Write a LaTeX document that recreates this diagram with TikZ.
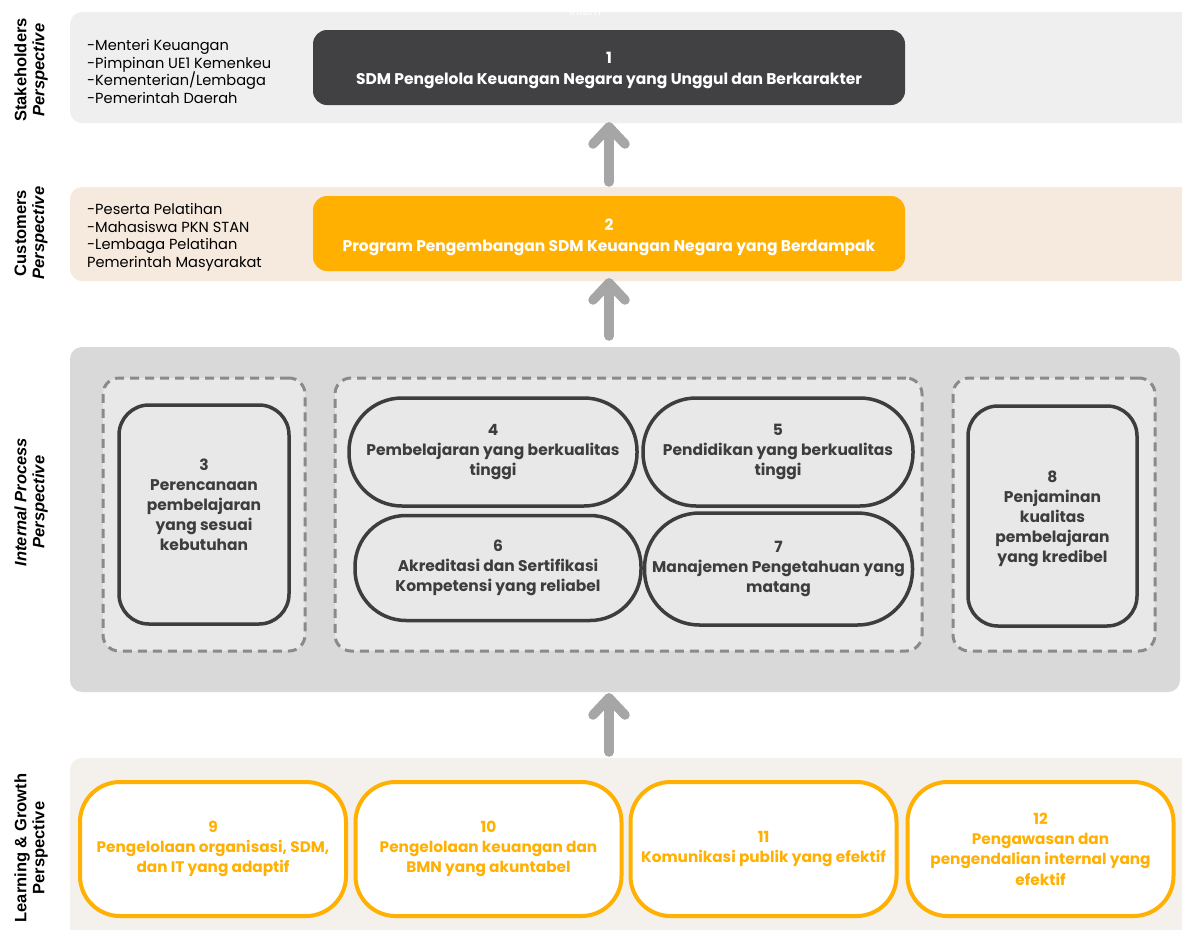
\documentclass[tikz,border=0pt]{standalone}
\usepackage{fontspec}
\setmainfont{Poppins}
\newfontfamily\labelfont{Liberation Sans}
\usetikzlibrary{calc}
\definecolor{darkbox}{HTML}{414042}
\definecolor{amber}{HTML}{FFB000}
\definecolor{bandA}{HTML}{EFEFEF}
\definecolor{bandB}{HTML}{F6E9DE}
\definecolor{bandC}{HTML}{D9D9D9}
\definecolor{bandD}{HTML}{F4F0EC}
\definecolor{grpfill}{HTML}{E8E8E8}
\definecolor{dashgray}{HTML}{8A8A8A}
\definecolor{arrgray}{HTML}{A6A6A6}
\definecolor{txtgray}{HTML}{3D3D3D}
\tikzset{
  band/.style={rounded corners=12pt, draw=none},
  bigbox/.style={rounded corners=14pt, minimum width=592pt, minimum height=75pt, inner sep=0pt},
  bigtext/.style={text=white, align=center,
    font=\bfseries\fontsize{15.5}{21}\selectfont, inner sep=0pt},
  grp/.style={draw=dashgray, dash pattern=on 9pt off 6pt, line width=3pt,
    fill=grpfill, rounded corners=16pt, minimum height=273pt, inner sep=0pt},
  ipbox/.style={draw=txtgray, line width=3.5pt, fill=grpfill, text=txtgray,
    align=center, font=\bfseries\fontsize{15.5}{20}\selectfont, inner sep=0pt},
  iptext/.style={text=txtgray, align=center,
    font=\bfseries\fontsize{15.5}{20}\selectfont, inner sep=0pt},
  lgbox/.style={draw=amber, line width=4pt, fill=white, text=amber,
    rounded corners=40pt, align=center,
    font=\bfseries\fontsize{15.3}{20.3}\selectfont,
    minimum width=266pt, minimum height=134pt, inner sep=0pt},
  listtxt/.style={anchor=north west, align=left, text=black,
    font=\fontsize{14.6}{17.7}\selectfont, inner sep=0pt},
  persp/.style={rotate=90, align=center, text=black,
    font=\labelfont\bfseries\fontsize{16.5}{18}\selectfont, inner sep=0pt},
  uparrow/.style={draw=arrgray, line width=9.5pt, line cap=round, line join=round},
}
\begin{document}
\begin{tikzpicture}[x=1pt, y=-1pt]
\useasboundingbox (0,0) rectangle (1182,929);
\clip (0,0) rectangle (1182,929);
\fill[white] (0,0) rectangle (1182,929);

% bands
\fill[bandA, band] (70,12) rectangle (1200,123);
\fill[bandB, band] (70,187) rectangle (1200,281);
\fill[bandC, band] (70,347) rectangle (1180,692);
\fill[bandD, band] (70,758) rectangle (1200,950);

\node[text=white, font=\fontsize{11}{12}\selectfont] (intern) at (585,11) {intern};

% perspective labels
\node[persp] (p1) at (31,70) {Stakeholders\\\itshape Perspective};
\node[persp] (p2) at (31,233) {Customers\\\itshape Perspective};
\node[persp] (p3) at (31,502) {\itshape Internal Process\\\itshape Perspective};
\node[persp] (p4) at (31,848) {Learning \& Growth\\Perspective};

% lists
\node[listtxt] (l1) at (87,39) {-Menteri Keuangan\\-Pimpinan UE1 Kemenkeu\\-Kementerian/Lembaga\\-Pemerintah Daerah};
\node[listtxt] (l2) at (87,203) {-Peserta Pelatihan\\-Mahasiswa PKN STAN\\-Lembaga Pelatihan\\Pemerintah Masyarakat};

% top boxes
\node[bigbox, fill=darkbox] (b1) at (609,67.5) {};
\node[bigtext] (t1) at (609,70.5) {1\\SDM Pengelola Keuangan Negara yang Unggul dan Berkarakter};
\node[bigbox, fill=amber] (b2) at (609,233.5) {};
\node[bigtext] (t2) at (609,237) {2\\Program Pengembangan SDM Keuangan Negara yang Berdampak};

% dashed groups
\node[grp, minimum width=202pt] (gA) at (204,514.5) {};
\node[grp, minimum width=587pt] (gB) at (628.5,514.5) {};
\node[grp, minimum width=202pt] (gC) at (1054,514.5) {};

% internal process boxes
\node[ipbox, rounded corners=30pt, minimum width=170pt, minimum height=219pt] (b3) at (204,514.5) {};
\node[iptext] (t3) at (204,505) {3\\Perencanaan\\pembelajaran\\yang sesuai\\kebutuhan};
\node[ipbox, rounded corners=30pt, minimum width=169pt, minimum height=220pt] (b8) at (1052.5,516) {};
\node[iptext] (t8) at (1052.5,519) {8\\Penjaminan\\kualitas\\pembelajaran\\yang kredibel};
\node[ipbox, rounded corners=53pt, minimum width=288pt, minimum height=108pt] (b4) at (493,452)
  {4\\Pembelajaran yang berkualitas\\tinggi};
\node[ipbox, rounded corners=53pt, minimum width=270pt, minimum height=108pt] (b5) at (778,452)
  {5\\Pendidikan yang berkualitas\\tinggi};
\node[ipbox, rounded corners=51pt, minimum width=286pt, minimum height=105pt] (b6) at (498,568)
  {6\\Akreditasi dan Sertifikasi\\Kompetensi yang reliabel};
\node[ipbox, rounded corners=55pt, minimum width=268pt, minimum height=112pt] (b7) at (778.5,569)
  {7\\Manajemen Pengetahuan yang\\matang};

% learning boxes
\node[lgbox] (b9) at (213,849) {9\\Pengelolaan organisasi, SDM,\\dan IT yang adaptif};
\node[lgbox] (b10) at (488.5,849) {10\\Pengelolaan keuangan dan\\BMN yang akuntabel};
\node[lgbox] (b11) at (763.5,849) {11\\Komunikasi publik yang efektif};
\node[lgbox] (b12) at (1040.5,849) {12\\Pengawasan dan\\pengendalian internal yang\\efektif};

% arrows
\coordinate (a1s) at (609,182);
\coordinate (a1t) at (609,127);
\coordinate (a2s) at (609,336);
\coordinate (a2t) at (609,283);
\coordinate (a3s) at (609,752);
\coordinate (a3t) at (609,698);
\foreach \s/\t in {a1s/a1t, a2s/a2t, a3s/a3t}{
  \draw[uparrow] (\s) -- (\t);
  \draw[uparrow] ($(\t)+(-16,17)$) -- (\t) -- ($(\t)+(16,17)$);
}
\end{tikzpicture}
\end{document}
